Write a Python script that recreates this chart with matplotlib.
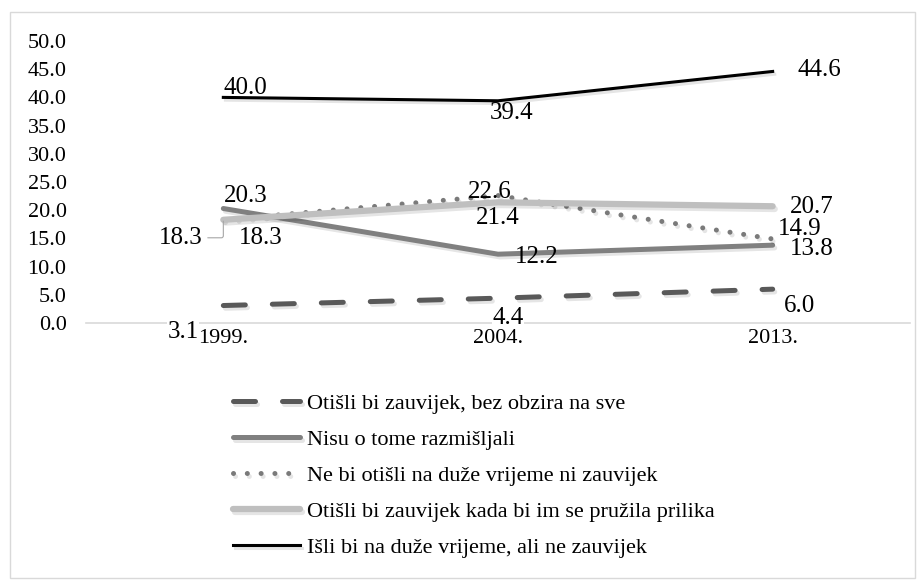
import matplotlib
matplotlib.use("Agg")
import matplotlib.pyplot as plt
import matplotlib.patheffects as pe
from matplotlib.patches import Rectangle

plt.rcParams['font.family'] = ['Liberation Serif', 'DejaVu Serif']
plt.rcParams['font.size'] = 16

# ---- data
years = ['1999.', '2004.', '2013.']
bez_obzira = [3.1, 4.4, 6.0]
nisu_razmisljali = [20.3, 12.2, 13.8]
ne_bi_otisli = [18.3, 22.6, 14.9]
kada_prilika = [18.3, 21.4, 20.7]
na_duze = [40.0, 39.4, 44.6]

names = ['Otišli bi zauvijek, bez obzira na sve',
         'Nisu o tome razmišljali',
         'Ne bi otišli na duže vrijeme ni zauvijek',
         'Otišli bi zauvijek kada bi im se pružila prilika',
         'Išli bi na duže vrijeme, ali ne zauvijek']

fig = plt.figure(figsize=(9.24, 5.83), dpi=100)
ax = fig.add_axes([86/924, 260/583, 824/924, 282/583])
x = list(range(len(years)))

shadow = [pe.SimpleLineShadow(offset=(1.5, -2), shadow_color='k', alpha=0.1), pe.Normal()]

l1, = ax.plot(x, bez_obzira, color='#595959', lw=3.6, dashes=(4.4, 5.4),
              dash_capstyle='round', solid_capstyle='round', path_effects=shadow)
l2, = ax.plot(x, nisu_razmisljali, color='#808080', lw=3.6,
              solid_capstyle='round', path_effects=shadow)
l3, = ax.plot(x, ne_bi_otisli, color='#7a7a7a', lw=3.6, dashes=(0.01, 2.75),
              dash_capstyle='round', path_effects=shadow)
l4, = ax.plot(x, kada_prilika, color='#bfbfbf', lw=4.5,
              solid_capstyle='round', path_effects=shadow)
l5, = ax.plot(x, na_duze, color='black', lw=2.2, path_effects=shadow)

# data labels: (series, offsets in pixels for each point)
label_offsets = [
    (bez_obzira, [(-40, -26.5), (10, -20), (27, -17)]),
    (nisu_razmisljali, [(22, 12.5), (39, -3), (39, -4)]),
    (ne_bi_otisli, [(37, -18), (-8, 3.5), (27, 10)]),
    (kada_prilika, [None, (0, -16), (39, -1)]),
    (na_duze, [(22, 9.4), (14, -12), (47, 1.5)]),
]
for vals, offs in label_offsets:
    for i, (v, o) in enumerate(zip(vals, offs)):
        if o is None:
            continue
        bbox = None
        z = 3
        if vals is bez_obzira:
            bbox = dict(facecolor='white', edgecolor='none', pad=0.3)
            z = 1
        ax.annotate(f'{v:.1f}', (i, v), xytext=o, textcoords='offset pixels',
                    ha='center', va='center', fontsize=18, bbox=bbox, zorder=z)

# label with leader line
ax.annotate(f'{kada_prilika[0]:.1f}', (0, kada_prilika[0]), xytext=(-43, -18),
            textcoords='offset pixels', ha='center', va='center', fontsize=18,
            arrowprops=dict(arrowstyle='-', color='#a6a6a6', lw=0.8,
                            shrinkA=2, shrinkB=1,
                            connectionstyle='angle,angleA=0,angleB=90,rad=2'))

ax.set_xlim(-0.5, 2.5)
ax.set_ylim(0, 50)
ax.set_yticks([i * 5 for i in range(11)])
ax.yaxis.set_major_formatter(plt.FormatStrFormatter('%.1f'))
ax.set_xticks(x)
ax.set_xticklabels(years)
ax.tick_params(axis='y', length=0, pad=14)
ax.tick_params(axis='x', length=0, pad=4)
for s in ['top', 'right', 'left']:
    ax.spines[s].set_visible(False)
ax.spines['bottom'].set_color('#d9d9d9')
ax.spines['bottom'].set_linewidth(1.2)
ax.spines['bottom'].set_zorder(0)

leg = fig.legend([l1, l2, l3, l4, l5], names, loc='upper left',
                 bbox_to_anchor=(233/924, 190/583), frameon=False,
                 borderpad=0, borderaxespad=0, handlelength=3.0,
                 handletextpad=0.32, labelspacing=0.7, fontsize=16)

fig.add_artist(Rectangle((10/924, 5/583), 905/924, 566/583, transform=fig.transFigure,
                         fill=False, edgecolor='#d9d9d9', lw=1))

fig.savefig('out.png', dpi=100)
plt.close()
